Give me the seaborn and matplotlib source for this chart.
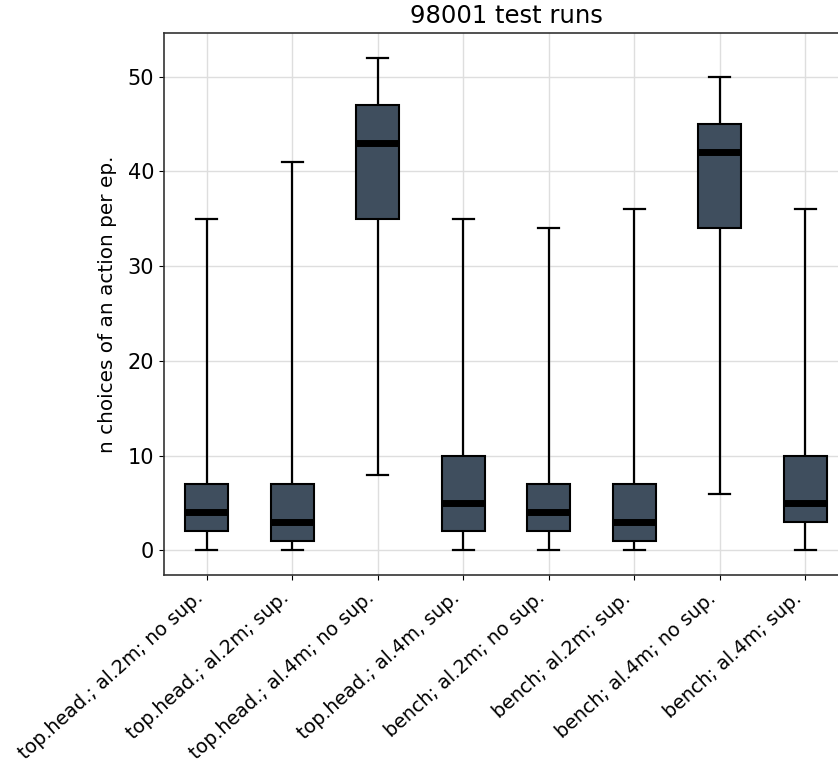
import numpy as np
import pandas as pd
import matplotlib
matplotlib.use("Agg")
import matplotlib.pyplot as plt
import seaborn as sns

categories = ["top.head.; al.2m; no sup.", "top.head.; al.2m; sup.",
              "top.head.; al.4m; no sup.", "top.head.; al.4m, sup.",
              "bench; al.2m; no sup.", "bench; al.2m; sup.",
              "bench; al.4m; no sup.", "bench; al.4m; sup."]
whisker_low = [0, 0, 8, 0, 0, 0, 6, 0]
q1 = [2, 1, 35, 2, 2, 1, 34, 3]
median = [4, 3, 43, 5, 4, 3, 42, 5]
q3 = [7, 7, 47, 10, 7, 7, 45, 10]
whisker_high = [35, 41, 52, 35, 34, 36, 50, 36]

rows = []
for c, lo, a, m, b, hi in zip(categories, whisker_low, q1, median, q3, whisker_high):
    for v in [lo, a, a, m, b, b, hi]:
        rows.append({"setting": c, "n": v})
df = pd.DataFrame(rows)

plt.rcParams['font.family'] = ['DejaVu Sans']
fig = plt.figure(figsize=(8.38, 7.66), dpi=100)
ax = fig.add_axes([164/838, 191/766, 684/838, 542/766])

sns.boxplot(data=df, x="setting", y="n", ax=ax, whis=(0, 100), width=0.5,
            color="#3f4e5e", saturation=1, showfliers=False,
            boxprops=dict(edgecolor="black", linewidth=1.5),
            whiskerprops=dict(color="black", linewidth=1.6),
            capprops=dict(color="black", linewidth=1.6),
            medianprops=dict(color="black", linewidth=5))

ax.set_xlim(-0.5, 7.5)
ax.set_ylim(-2.6, 54.6)
ax.set_yticks([0, 10, 20, 30, 40, 50])
ax.grid(True, color="#dedede", linewidth=1)
ax.set_axisbelow(True)
ax.set_xlabel("")
ax.set_ylabel("n choices of an action per ep.", fontsize=14.4, labelpad=8)
ax.set_title("98001 test runs", fontsize=17.5, pad=7)
ax.tick_params(axis="y", labelsize=15)
ax.tick_params(axis="x", pad=6)
ax.set_xticks(range(len(categories)))
ax.set_xticklabels(categories, rotation=42, ha="right", fontsize=13.8)
for s in ax.spines.values():
    s.set_color("#333333")
    s.set_linewidth(1.2)

fig.savefig("out.png", dpi=100)
